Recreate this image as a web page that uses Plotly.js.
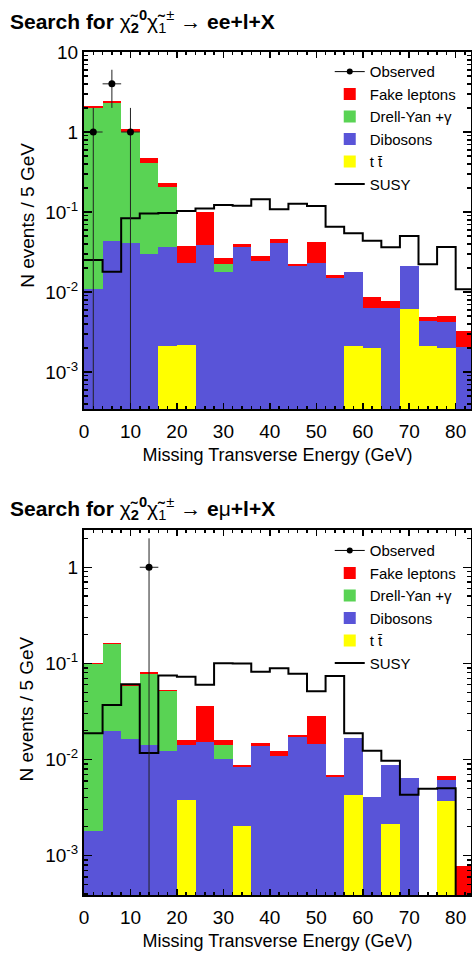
<!DOCTYPE html>
<html><head><meta charset="utf-8">
<script src="https://cdn.plot.ly/plotly-3.0.1.min.js"></script>
<style>html,body{margin:0;padding:0;background:#fff}#chart{width:472px;height:956px}</style>
</head><body><div id="chart"></div>
<script>
// ---- data ----
const binLow = [0,4,8,12,16,20,24,28,32,36,40,44,48,52,56,60,64,68,72,76,80];
const binWidth = 4;
const xTickVals = [0,10,20,30,40,50,60,70,80];
const legendNames = ['Observed','Fake leptons','Drell-Yan +\u03b3','Dibosons','t t\u0304','SUSY'];

// ee+l+X panel (events / bin)
const eeTtbar   = [0,0,0,0,0.00213,0.00216,0,0,0,0,0,0,0,0,0.00211,0.00202,0,0.0062,0.00213,0.0020,0];
const eeDiboson = [0.0108,0.0434,0.0414,0.0296,0.0341,0.0211,0.0387,0.0179,0.0362,0.0244,0.0406,0.0213,0.0230,0.0151,0.0157,0.00435,0.0064,0.0149,0.00217,0.00221,0.00205];
const eeDrellYan= [1.99,2.24,0.959,0.384,0.171,0,0,0.0045,0,0,0,0,0,0,0,0,0,0,0,0,0];
const eeFake    = [0.11,0.16,0.08,0.055,0.021,0.0147,0.0603,0.0045,0.0036,0.0038,0.0049,0.0009,0.0192,0.0011,0,0.00223,0.0013,0,0.00057,0.00075,0.0012];
const eeSusy    = [0.0251,0.0179,0.0834,0.096,0.097,0.103,0.111,0.122,0.120,0.144,0.108,0.127,0.119,0.0656,0.0541,0.0438,0.0362,0.0501,0.0222,0.0365,0.0108];
const eeObsX = [2,6,10];
const eeObsY = [1,4,1];
const eeObsErr = [1,2,1];

// e mu+l+X panel
const emTtbar   = [0,0,0,0,0,0.00378,0,0,0.00201,0,0,0,0,0,0.00423,0,0.00215,0,0,0.00372,0];
const emDiboson = [0.00182,0.0199,0.0164,0.0142,0.0123,0.01042,0.0153,0.0101,0.00633,0.0139,0.0110,0.0171,0.0146,0.0065,0.01257,0.00412,0.0066,0.00635,0,0.00243,0];
const emDrellYan= [0.0973,0.141,0.0424,0.0631,0.0393,0,0,0.0041,0,0,0,0,0,0,0,0,0,0,0,0,0];
const emFake    = [0.0014,0.002,0.0002,0.0034,0.0014,0.0018,0.0211,0.0017,0.00033,0.0009,0.0013,0.0007,0.0138,0.00043,0,0,0,0,0,0.00051,0.000785];
const emSusy    = [0.0188,0.037,0.0608,0.0117,0.0747,0.0724,0.0598,0.1005,0.100,0.0816,0.089,0.0778,0.0514,0.0741,0.0188,0.0123,0.0097,0.0043,0.00496,0.00503,0.0001];
const emObsX = [14];
const emObsY = [1];
const emObsErr = [1];

// ---- styles ----
const FONT = 'Liberation Sans, Arial, Helvetica, sans-serif';
const C = {fake:'#ff0000', dy:'#59d354', vv:'#5954d8', tt:'#ffff00'};

const centers = binLow.map(v => v + binWidth/2);
const edges = binLow.concat([binLow[binLow.length-1] + binWidth]);

function panel(xa, ya, leg, tt, vv, dy, fk, susy, ox, oy, oe){
  const bar = (y, name, color, rank) => ({
    type:'bar', x:centers, y:y, name:name, xaxis:xa, yaxis:ya, legend:leg,
    marker:{color:color, line:{width:0}}, legendrank:rank, hoverinfo:'skip'
  });
  return [
    bar(tt, legendNames[4], C.tt, 5),
    bar(vv, legendNames[3], C.vv, 4),
    bar(dy, legendNames[2], C.dy, 3),
    bar(fk, legendNames[1], C.fake, 2),
    {type:'scatter', mode:'lines', x:edges, y:susy.concat([susy[susy.length-1]]),
     line:{shape:'hv', color:'black', width:2}, name:legendNames[5], xaxis:xa, yaxis:ya, legend:leg, legendrank:6},
    {type:'scatter', mode:'markers', x:ox, y:oy, xaxis:xa, yaxis:ya, legend:leg, showlegend:false,
     marker:{color:'black', size:7},
     error_y:{type:'data', array:oe, arrayminus:oy.map((v,i)=>oe[i]), color:'#222', thickness:1, width:0},
     error_x:{type:'data', array:ox.map(()=>binWidth/2), color:'#222', thickness:1, width:0}},
    {type:'scatter', mode:'lines+markers', x:[null], y:[null], xaxis:xa, yaxis:ya, legend:leg,
     name:legendNames[0], legendrank:1, line:{color:'black', width:1}, marker:{color:'black', size:6}}
  ];
}

const data = panel('x','y','legend', eeTtbar, eeDiboson, eeDrellYan, eeFake, eeSusy, eeObsX, eeObsY, eeObsErr)
  .concat(panel('x2','y2','legend2', emTtbar, emDiboson, emDrellYan, emFake, emSusy, emObsX, emObsY, emObsErr));

const minorY = [];
for (let k=-4;k<=1;k++) for (let m=2;m<=9;m++) minorY.push(m*Math.pow(10,k));

function xAxis(anchor){
  return {anchor:anchor, range:[0,83.3], tickmode:'array', tickvals:xTickVals,
    ticks:'inside', ticklen:6, tickwidth:1.5, tickcolor:'black', ticklabelstandoff:4,
    showline:true, linewidth:2, linecolor:'black', mirror:'ticks',
    showgrid:false, zeroline:false, tickfont:{size:19, color:'black'},
    minor:{tickmode:'linear', tick0:0, dtick:2, ticks:'inside', ticklen:3, tickcolor:'black', showgrid:false},
    title:{text:'Missing Transverse Energy (GeV)', font:{size:18, color:'black'}, standoff:8}};
}
function yAxis(anchor, domain, range, vals, text){
  return {anchor:anchor, type:'log', domain:domain, range:range,
    tickmode:'array', tickvals:vals, ticktext:text,
    ticks:'inside', ticklen:8, tickwidth:1.5, tickcolor:'black',
    showline:true, linewidth:2, linecolor:'black', mirror:'ticks',
    showgrid:false, zeroline:false, tickfont:{size:19, color:'black'},
    minor:{tickmode:'array', tickvals:minorY, ticks:'inside', ticklen:4, tickcolor:'black', showgrid:false}};
}

const legendStyle = (y) => ({x:0.635, xanchor:'left', y:y, yanchor:'top', bgcolor:'rgba(0,0,0,0)',
  font:{size:15, color:'black'}, traceorder:'normal', itemwidth:30, tracegroupgap:0});

const layout = {
  width:472, height:956, margin:{l:84, r:1, t:52, b:61},
  paper_bgcolor:'white', plot_bgcolor:'white',
  font:{family:FONT, color:'black'},
  barmode:'stack', bargap:0,
  xaxis: xAxis('y'),
  yaxis: yAxis('x', [0.5765,1], [-3.4625,1], [0.001,0.01,0.1,1,10], ['10<sup>-3</sup>','10<sup>-2</sup>','10<sup>-1</sup>','1','10']),
  xaxis2: xAxis('y2'),
  yaxis2: yAxis('x2', [0,0.433], [-3.41,0.388], [0.001,0.01,0.1,1], ['10<sup>-3</sup>','10<sup>-2</sup>','10<sup>-1</sup>','1']),
  legend: legendStyle(0.996),
  legend2: legendStyle(0.428),
  annotations:[
    {xref:'paper', yref:'paper', x:-0.197, y:1.036, xanchor:'left', yanchor:'middle', showarrow:false,
     font:{size:21, color:'black'},
     text:'<b>Search for </b>\u03c7\u0303<sub><b>2</b></sub><sup><b>0</b></sup>\u03c7\u0303<sub>1</sub><sup>\u00b1</sup> \u2192 <b>ee+l+X</b>'},
    {xref:'paper', yref:'paper', x:-0.197, y:0.4585, xanchor:'left', yanchor:'middle', showarrow:false,
     font:{size:21, color:'black'},
     text:'<b>Search for </b>\u03c7\u0303<sub><b>2</b></sub><sup><b>0</b></sup>\u03c7\u0303<sub>1</sub><sup>\u00b1</sup> \u2192 <b>e</b>\u03bc<b>+l+X</b>'},
    {xref:'paper', yref:'paper', x:-0.148, y:0.8066, xanchor:'center', yanchor:'middle', showarrow:false,
     textangle:-90, font:{size:19, color:'black'}, text:'N events / 5 GeV'},
    {xref:'paper', yref:'paper', x:-0.148, y:0.221, xanchor:'center', yanchor:'middle', showarrow:false,
     textangle:-90, font:{size:19, color:'black'}, text:'N events / 5 GeV'}
  ]
};

Plotly.newPlot('chart', data, layout, {displayModeBar:false, staticPlot:true});
</script></body></html>
